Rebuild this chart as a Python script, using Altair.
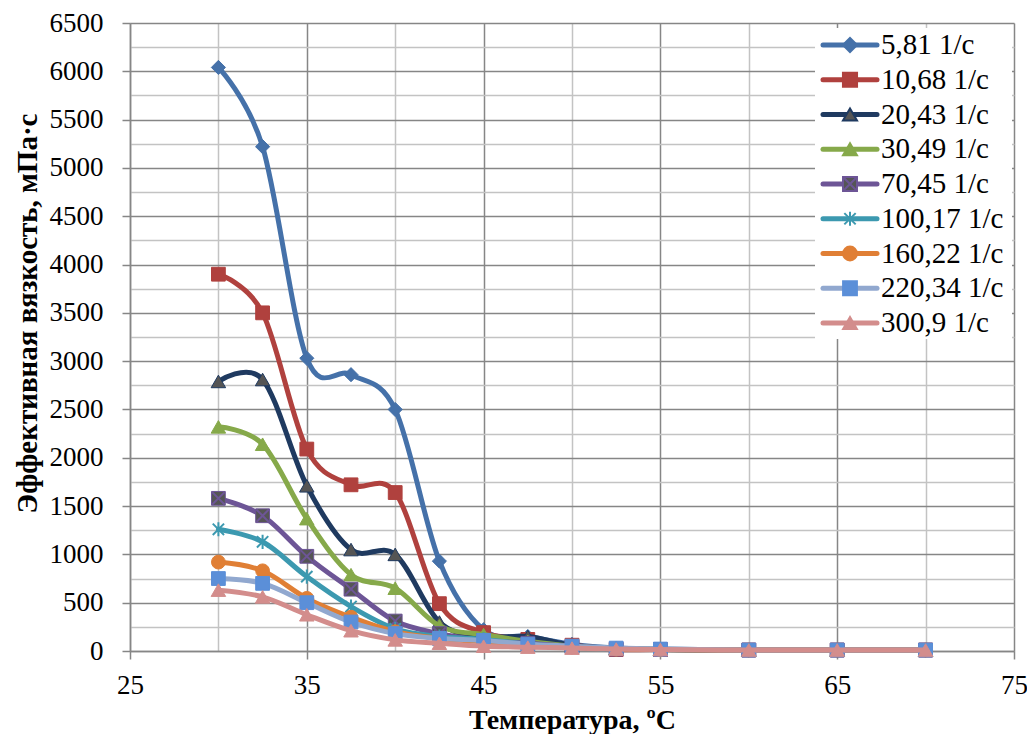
import altair as alt
import pandas as pd

temps = [30, 32.5, 35, 37.5, 40, 42.5, 45, 47.5, 50, 52.5, 55, 60, 65, 70]
series_names = ["5,81 1/c", "10,68 1/c", "20,43 1/c", "30,49 1/c", "70,45 1/c",
                "100,17 1/c", "160,22 1/c", "220,34 1/c", "300,9 1/c"]

s1 = [6040, 5220, 3030, 2860, 2500, 930, 220, 150, 70, 30, 20, 10, 10, 10]
s2 = [3900, 3500, 2090, 1720, 1640, 490, 190, 120, 60, 15, 15, 10, 10, 10]
s3 = [2790, 2810, 1710, 1050, 1000, 300, 150, 150, 60, 25, 15, 10, 10, 10]
s4 = [2320, 2140, 1370, 790, 650, 260, 170, 100, 50, 25, 15, 10, 10, 10]
s5 = [1580, 1400, 980, 640, 310, 180, 110, 80, 45, 20, 15, 10, 10, 10]
s6 = [1260, 1130, 770, 460, 230, 150, 120, 70, 40, 20, 15, 10, 10, 10]
s7 = [920, 830, 545, 350, 200, 130, 95, 60, 40, 20, 15, 10, 10, 10]
s8 = [750, 700, 500, 300, 180, 130, 110, 70, 50, 30, 20, 10, 10, 10]
s9 = [630, 560, 375, 210, 115, 80, 50, 40, 30, 20, 15, 10, 10, 10]
all_values = [s1, s2, s3, s4, s5, s6, s7, s8, s9]

x_ticks = [25, 30, 35, 40, 45, 50, 55, 60, 65, 70, 75]
y_ticks = list(range(0, 6501, 250))

line_colors = ["#4571a9", "#b0413e", "#1f3a60", "#86a94a", "#6d5596",
               "#3c99b0", "#e07f35", "#91a8cf", "#d38d8c"]
marker_fills = ["#4571a9", "#b0413e", "#555555", "#86a94a", "#555555",
                "#3c99b0", "#e07f35", "#5b8fd8", "#d38d8c"]
marker_strokes = ["#4571a9", "#b0413e", "#1f3a60", "#86a94a", "#6d5596",
                  "#3c99b0", "#e07f35", "#5b8fd8", "#d38d8c"]
STAR = "M0,-1L0,1M-0.8,-0.8L0.8,0.8M-0.8,0.8L0.8,-0.8"
XMARK = "M-0.9,-0.9L0.9,0.9M-0.9,0.9L0.9,-0.9"
marker_shapes = ["diamond", "square", "triangle-up", "triangle-up", "square",
                 STAR, "circle", "square", "triangle-up"]
marker_sizes = [200, 190, 210, 210, 190, 200, 190, 190, 210]

FONT = "Liberation Serif"
MAJOR = "#868686"
MINOR = "#c3c3c3"

rows = []
for i, (name, vals) in enumerate(zip(series_names, all_values)):
    for t, v in zip(temps, vals):
        rows.append({"series": name, "order": i, "temp": t, "visc": v})
df = pd.DataFrame(rows)

x_axis = alt.Axis(
    values=x_ticks,
    title="Температура, ºC",
    labelExpr="(datum.value - 25) % 10 === 0 ? datum.label : ''",
    gridColor={"condition": {"test": "(datum.value - 25) % 10 === 0", "value": MAJOR}, "value": MINOR},
    tickColor={"condition": {"test": "(datum.value - 25) % 10 === 0", "value": MAJOR}, "value": "transparent"},
    gridWidth=1.5, tickWidth=1.5, tickSize=8, domainColor=MAJOR, domainWidth=1.5,
    labelFont=FONT, labelFontSize=27, labelColor="black", labelPadding=13,
    labelOverlap=False, labelFlush=False,
    titleFont=FONT, titleFontSize=28, titleFontWeight="bold", titleColor="black",
    titleY=69, titleBaseline="middle",
)
y_axis = alt.Axis(
    values=y_ticks,
    title="Эффективная вязкость, мПа·с",
    labelExpr="datum.value % 500 === 0 ? datum.label : ''",
    gridColor={"condition": {"test": "datum.value % 500 === 0", "value": MAJOR}, "value": MINOR},
    tickColor={"condition": {"test": "datum.value % 500 === 0", "value": MAJOR}, "value": "transparent"},
    gridWidth=1.5, tickWidth=1.5, tickSize=8, domainColor=MAJOR, domainWidth=1.5,
    labelFont=FONT, labelFontSize=27, labelColor="black", labelPadding=19,
    labelOverlap=False, labelFlush=False, format="d",
    titleFont=FONT, titleFontSize=29, titleFontWeight="bold", titleColor="black",
    titleX=-103, titleY=290, titleAngle=-90, titleAlign="center", titleBaseline="middle",
)

x_enc = alt.X("temp:Q", scale=alt.Scale(domain=[25, 75], nice=False, zero=False), axis=x_axis)
y_enc = alt.Y("visc:Q", scale=alt.Scale(domain=[0, 6500], nice=False), axis=y_axis)

layers = []
for i, name in enumerate(series_names):
    sub = df[df["series"] == name]
    base = alt.Chart(sub)
    layers.append(
        base.mark_line(interpolate="cardinal", strokeWidth=5, strokeCap="round",
                       strokeJoin="round", color=line_colors[i]).encode(x=x_enc, y=y_enc)
    )
    if marker_shapes[i] == STAR:
        layers.append(
            base.mark_point(shape=STAR, size=marker_sizes[i], filled=False,
                            stroke=marker_strokes[i], strokeWidth=2, opacity=1).encode(x=x_enc, y=y_enc)
        )
    else:
        layers.append(
            base.mark_point(shape=marker_shapes[i], size=marker_sizes[i], filled=True,
                            fill=marker_fills[i], stroke=marker_strokes[i], strokeWidth=1,
                            opacity=1).encode(x=x_enc, y=y_enc)
        )
    if i == 4:
        layers.append(
            base.mark_point(shape=XMARK, size=marker_sizes[i], filled=False,
                            stroke=line_colors[i], strokeWidth=2, opacity=1).encode(x=x_enc, y=y_enc)
        )

main = alt.layer(*layers)

legend_df = pd.DataFrame({"series": series_names, "idx": list(range(len(series_names)))})
ly = alt.Y("idx:Q", scale=alt.Scale(domain=[0, 8], range=[22, 300]), axis=None)
stroke_scale = alt.Scale(domain=series_names, range=line_colors)
fill_scale = alt.Scale(domain=series_names, range=marker_fills)
mstroke_scale = alt.Scale(domain=series_names, range=marker_strokes)
shape_scale = alt.Scale(domain=series_names, range=marker_shapes)
size_scale = alt.Scale(domain=series_names, range=marker_sizes)

leg_bg = alt.Chart(pd.DataFrame({"a": [0]})).mark_rect(fill="white").encode(
    x=alt.value(685), x2=alt.value(882), y=alt.value(5), y2=alt.value(316)
)
leg_base = alt.Chart(legend_df)
leg_lines = leg_base.mark_rule(strokeWidth=5, strokeCap="round").encode(
    x=alt.value(693), x2=alt.value(747), y=ly,
    stroke=alt.Stroke("series:N", scale=stroke_scale, legend=None),
)
leg_marks = leg_base.transform_filter(alt.datum.idx != 5).mark_point(filled=True, opacity=1).encode(
    x=alt.value(720), y=ly,
    fill=alt.Fill("series:N", scale=fill_scale, legend=None),
    stroke=alt.Stroke("series:N", scale=mstroke_scale, legend=None),
    shape=alt.Shape("series:N", scale=shape_scale, legend=None),
    size=alt.Size("series:N", scale=size_scale, legend=None),
)
leg_star = leg_base.transform_filter(alt.datum.idx == 5).mark_point(
    shape=STAR, size=200, filled=False, stroke=line_colors[5], strokeWidth=2, opacity=1
).encode(x=alt.value(720), y=ly)
leg_x = leg_base.transform_filter(alt.datum.idx == 4).mark_point(
    shape=XMARK, size=190, filled=False, stroke=line_colors[4], strokeWidth=2, opacity=1
).encode(x=alt.value(720), y=ly)
leg_text = leg_base.mark_text(align="left", baseline="middle", font=FONT, fontSize=29,
                              color="black").encode(
    x=alt.value(751), y=ly, text="series:N"
)
legend = alt.layer(leg_bg, leg_lines, leg_marks, leg_star, leg_x, leg_text).resolve_scale(
    stroke="independent"
)

chart = alt.layer(main, legend).resolve_scale(y="independent", stroke="independent").properties(
    width=884, height=628,
    padding={"left": 122, "top": 15, "right": 13, "bottom": 83},
    autosize=alt.AutoSizeParams(type="none"),
    background="white",
).configure_view(stroke=None)

chart.save("out.html", embed_options={"renderer": "svg", "actions": False})
